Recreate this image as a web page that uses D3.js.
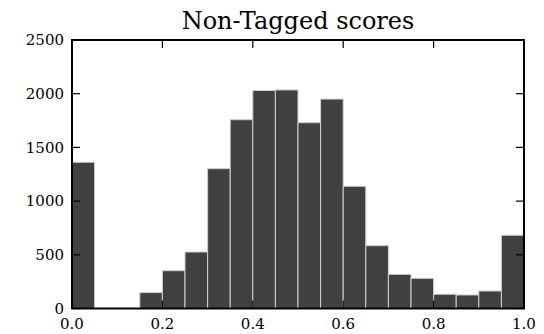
<!DOCTYPE html>
<html><head><meta charset="utf-8">
<script src="https://cdn.jsdelivr.net/npm/d3@7"></script>
<style>body{margin:0;background:#fff}</style>
</head><body>
<svg id="c" width="544" height="334"></svg>
<script>
const binStarts = [0.00,0.05,0.10,0.15,0.20,0.25,0.30,0.35,0.40,0.45,0.50,0.55,0.60,0.65,0.70,0.75,0.80,0.85,0.90,0.95];
const counts = [1362,0,0,148,352,526,1302,1758,2030,2035,1730,1950,1138,585,318,281,133,126,163,682];
const xTicks = [0.0,0.2,0.4,0.6,0.8,1.0];
const yTicks = [0,500,1000,1500,2000,2500];
const binWidth = 0.05;
const title = "Non-Tagged scores";

const svg = d3.select("#c");
const L=72, R=524, T=40, B=308.5;
const x = d3.scaleLinear().domain([0,1]).range([L,R]);
const y = d3.scaleLinear().domain([0,2500]).range([B,T]);
const font = "DejaVu Serif";

svg.append("g").selectAll("rect").data(binStarts).join("rect")
  .attr("x", d=>x(d))
  .attr("width", d=>x(d+binWidth)-x(d))
  .attr("y", (d,i)=>y(counts[i]))
  .attr("height", (d,i)=>y(0)-y(counts[i]))
  .attr("fill","#404040")
  .attr("stroke","#d0d0d0")
  .attr("stroke-width",1);

const tl = 8;
const gx = svg.append("g");
xTicks.forEach(t=>{
  gx.append("line").attr("x1",x(t)).attr("x2",x(t)).attr("y1",B).attr("y2",B-tl).attr("stroke","#000").attr("stroke-width",1.2);
  gx.append("line").attr("x1",x(t)).attr("x2",x(t)).attr("y1",T).attr("y2",T+tl).attr("stroke","#000").attr("stroke-width",1.2);
  gx.append("text").attr("x",x(t)).attr("y",B+20).attr("text-anchor","middle")
    .attr("font-family",font).attr("font-size",15).text(d3.format(".1f")(t));
});
const gy = svg.append("g");
yTicks.forEach(t=>{
  gy.append("line").attr("x1",L).attr("x2",L+tl).attr("y1",y(t)).attr("y2",y(t)).attr("stroke","#000").attr("stroke-width",1.2);
  gy.append("line").attr("x1",R).attr("x2",R-tl).attr("y1",y(t)).attr("y2",y(t)).attr("stroke","#000").attr("stroke-width",1.2);
  gy.append("text").attr("x",L-8).attr("y",y(t)).attr("dy","0.35em").attr("text-anchor","end")
    .attr("font-family",font).attr("font-size",15).text(t);
});
svg.append("rect").attr("x",L).attr("y",T).attr("width",R-L).attr("height",B-T)
  .attr("fill","none").attr("stroke","#000").attr("stroke-width",2);
svg.append("text").attr("x",(L+R)/2).attr("y",29).attr("text-anchor","middle")
  .attr("font-family",font).attr("font-size",24).text(title);
</script>
</body></html>
